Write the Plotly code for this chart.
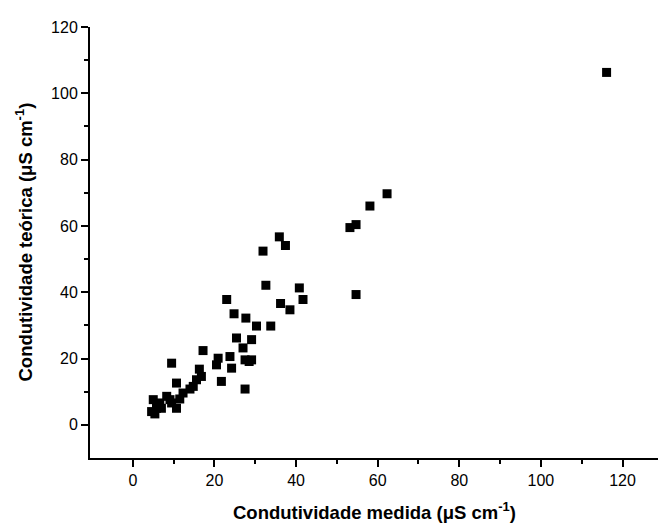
import plotly.graph_objects as go

# Condutividade medida (x) vs teórica (y), µS cm-1
medida = [116.1, 62.3, 58.1, 53.2, 54.7, 54.7,
          35.9, 37.4, 31.9, 32.6, 40.8, 41.7, 36.2, 38.5,
          30.3, 33.8, 23.0, 24.8, 27.7, 25.4, 29.1, 27.0, 29.1, 27.5,
          28.5, 17.2, 20.9, 23.8, 20.5, 24.2, 16.3, 21.7, 27.5, 15.6,
          9.5, 16.8, 14.8, 10.7, 14.0, 12.3, 11.5, 8.3, 10.7, 9.5, 6.6,
          5.0, 4.6, 5.8, 7.0, 5.4, 9.1]
teorica = [106.3, 69.7, 66.0, 59.5, 60.4, 39.3,
           56.7, 54.1, 52.4, 42.1, 41.3, 37.8, 36.6, 34.7,
           29.8, 29.8, 37.8, 33.5, 32.2, 26.2, 25.7, 23.2, 19.6, 19.6,
           19.1, 22.4, 20.1, 20.6, 18.1, 17.1, 16.8, 13.1, 10.8, 13.6,
           18.6, 14.6, 11.6, 12.6, 10.8, 9.6, 7.8, 8.6, 5.0, 6.6, 6.6,
           7.6, 4.0, 5.0, 5.0, 3.3, 7.6]

x_ticks = [0, 20, 40, 60, 80, 100, 120]
y_ticks = [0, 20, 40, 60, 80, 100, 120]

fig = go.Figure()
fig.add_trace(go.Scatter(
    x=medida, y=teorica, mode="markers",
    marker=dict(symbol="square", size=9, color="black", line=dict(width=0)),
    showlegend=False,
))

font = dict(family="Liberation Sans, Arial, sans-serif", size=16, color="black")

axis_common = dict(
    showgrid=False, zeroline=False, showline=True, linecolor="black", linewidth=2,
    ticks="outside", ticklen=7, tickwidth=1.5, tickcolor="black",
    tickfont=font, mirror=False,
)

fig.update_xaxes(
    range=[-10.5, 128.7], tickvals=x_ticks,
    minor=dict(tickvals=[10, 30, 50, 70, 90, 110], ticks="outside", ticklen=4, tickcolor="black", tickwidth=1.5),
    **axis_common,
)
fig.update_yaxes(
    range=[-10, 120], tickvals=y_ticks,
    minor=dict(tickvals=[10, 30, 50, 70, 90, 110], ticks="outside", ticklen=4, tickcolor="black", tickwidth=1.5),
    **axis_common,
)

title_font = dict(family="Liberation Sans, Arial, sans-serif", size=18.5, color="black")
fig.add_annotation(
    text="<b>Condutividade medida (μS cm<sup>-1</sup>)</b>",
    xref="paper", yref="paper", x=0.5, y=0, xanchor="center", yanchor="middle",
    yshift=-53, showarrow=False, font=title_font,
)
fig.add_annotation(
    text="<b>Condutividade teórica (μS cm<sup>-1</sup>)</b>",
    xref="paper", yref="paper", x=0, y=0.5, xanchor="center", yanchor="middle",
    xshift=-66, textangle=-90, showarrow=False, font=title_font,
)

fig.update_layout(
    width=658, height=527,
    margin=dict(l=90, r=0, t=27, b=69, autoexpand=False),
    plot_bgcolor="white", paper_bgcolor="white",
)

fig.write_html("out.html")
